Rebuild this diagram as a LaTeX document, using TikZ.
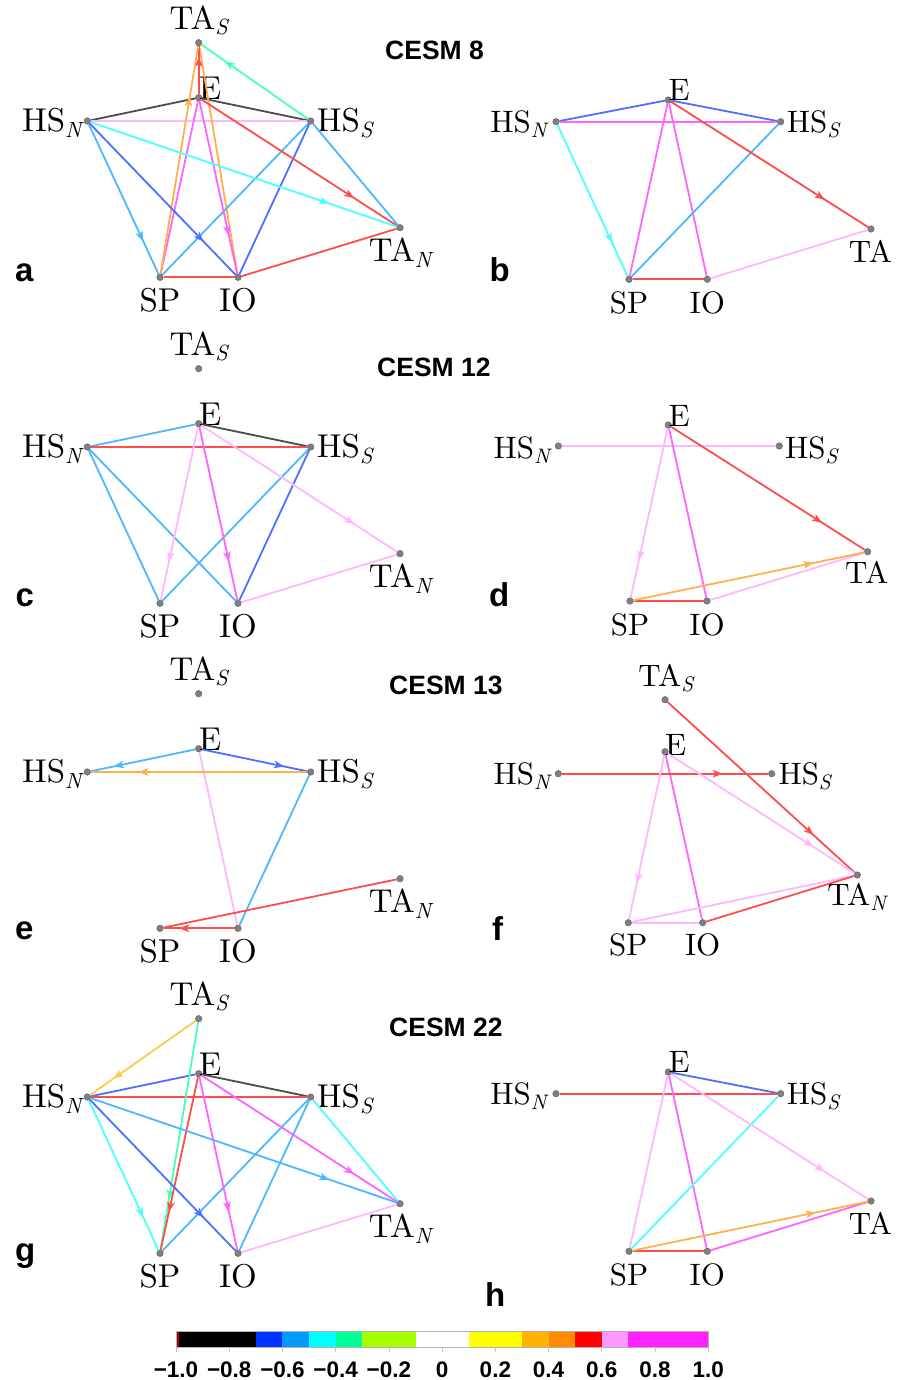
\documentclass[tikz,border=0pt]{standalone}
\usepackage{fontspec}
\newfontfamily\hv{Liberation Sans}
\newfontfamily\lmten{lmroman10-regular.otf}[ItalicFont=lmroman10-italic.otf]
\usetikzlibrary{arrows.meta,decorations.markings}

% colour scale
\definecolor{cDark}{HTML}{B00000}
\definecolor{cBlack}{HTML}{000000}
\definecolor{cBlue}{HTML}{0033FF}
\definecolor{cSky}{HTML}{0099FF}
\definecolor{cCyan}{HTML}{00FFFF}
\definecolor{cGreen}{HTML}{00FF99}
\definecolor{cLime}{HTML}{A6FF00}
\definecolor{cYellow}{HTML}{FFFF00}
\definecolor{cAmber}{HTML}{FFB300}
\definecolor{cOrange}{HTML}{FF8C00}
\definecolor{cRed}{HTML}{FF0000}
\definecolor{cPink}{HTML}{FF99FF}
\definecolor{cMag}{HTML}{FF22FF}

\newcommand{\sub}[1]{\raisebox{-5.5pt}{\fontsize{22}{24}\selectfont\itshape #1}}
\newcommand{\subr}[1]{\raisebox{-5.2pt}{\fontsize{21}{23}\selectfont\itshape #1}}

\begin{document}
\begin{tikzpicture}[
  x=1pt, y=-1pt,
  vtx/.style={circle,fill=gray,draw=black!60,line width=0.5pt,inner sep=0pt,minimum size=6.5pt},
  lab/.style={font=\lmten\fontsize{33}{36}\selectfont,inner sep=0pt},
  labr/.style={font=\lmten\fontsize{31}{34}\selectfont,inner sep=0pt},
  ttl/.style={font=\hv\bfseries\fontsize{26.5}{30}\selectfont,inner sep=0pt},
  pnl/.style={font=\hv\bfseries\fontsize{33}{38}\selectfont,inner sep=0pt},
  cbl/.style={font=\hv\bfseries\fontsize{22.5}{26}\selectfont,inner sep=0pt},
  ed/.style={line width=1.8pt},
  arr/.style={postaction={decorate},
    decoration={markings,mark=at position 0.78 with {\arrow{Stealth[length=10pt,width=7.5pt,inset=2.5pt]}}}}
]
\useasboundingbox (0,0) rectangle (898,1380);

% -------------------------
% Left column: seven boxes
% -------------------------
\foreach \p/\dy in {a/0,c/326,e/651,g/976} {
  \node[vtx] (\p-TAS) at (198.7,42.7+\dy) {};
  \node[vtx] (\p-E)   at (198.7,97.7+\dy) {};
  \node[vtx] (\p-HSN) at (87.3,121+\dy) {};
  \node[vtx] (\p-HSS) at (310.7,121+\dy) {};
  \node[vtx] (\p-TAN) at (400,227.7+\dy) {};
  \node[vtx] (\p-SP)  at (160,277.3+\dy) {};
  \node[vtx] (\p-IO)  at (238,277.3+\dy) {};
  \node[lab,anchor=base]      (\p-TASl) at (198.7,29.3+\dy) {TA\sub{S}};
  \node[lab,anchor=base west] (\p-El)   at (198.7,99.7+\dy) {E};
  \node[lab,anchor=base east] (\p-HSNl) at (81.7,131.7+\dy) {HS\sub{N}};
  \node[lab,anchor=base west] (\p-HSSl) at (316.7,131.7+\dy) {HS\sub{S}};
  \node[lab,anchor=base]      (\p-TANl) at (400,261.7+\dy) {TA\sub{N}};
  \node[lab,anchor=base]      (\p-SPl)  at (160,311.7+\dy) {SP};
  \node[lab,anchor=base]      (\p-IOl)  at (238,311.7+\dy) {IO};
}

% -------------------------
% Right column: six boxes (b, h)
% -------------------------
\foreach \p/\dy in {b/0,h/972} {
  \node[vtx] (\p-E)   at (668.3,100+\dy) {};
  \node[vtx] (\p-HSN) at (556,121.7+\dy) {};
  \node[vtx] (\p-HSS) at (780.7,121.7+\dy) {};
  \node[vtx] (\p-TA)  at (871,229+\dy) {};
  \node[vtx] (\p-SP)  at (629,279.3+\dy) {};
  \node[vtx] (\p-IO)  at (707.3,279.3+\dy) {};
  \node[labr,anchor=base west] (\p-El)   at (668.3,100.5+\dy) {E};
  \node[labr,anchor=base east] (\p-HSNl) at (546.7,132.7+\dy) {HS\subr{N}};
  \node[labr,anchor=base west] (\p-HSSl) at (786.7,132.7+\dy) {HS\subr{S}};
  \node[labr,anchor=base]      (\p-TAl)  at (870.5,262.3+\dy) {TA};
  \node[labr,anchor=base]      (\p-SPl)  at (629,313.3+\dy) {SP};
  \node[labr,anchor=base]      (\p-IOl)  at (707.3,313.3+\dy) {IO};
}

% box d
\node[vtx] (d-E)   at (668.3,425) {};
\node[vtx] (d-HSN) at (558.3,446) {};
\node[vtx] (d-HSS) at (779.3,446) {};
\node[vtx] (d-TA)  at (867.7,551.7) {};
\node[vtx] (d-SP)  at (630,601) {};
\node[vtx] (d-IO)  at (707,601) {};
\node[labr,anchor=base west] (d-El)   at (668.3,426.7) {E};
\node[labr,anchor=base east] (d-HSNl) at (550,458) {HS\subr{N}};
\node[labr,anchor=base west] (d-HSSl) at (785,458) {HS\subr{S}};
\node[labr,anchor=base]      (d-TAl)  at (866.7,583.3) {TA};
\node[labr,anchor=base]      (d-SPl)  at (630,635) {SP};
\node[labr,anchor=base]      (d-IOl)  at (707,635) {IO};

% box f
\node[vtx] (f-TAS) at (665,699.7) {};
\node[vtx] (f-E)   at (665,751.7) {};
\node[vtx] (f-HSN) at (558.3,773.7) {};
\node[vtx] (f-HSS) at (771.7,773.7) {};
\node[vtx] (f-TAN) at (857.3,875) {};
\node[vtx] (f-SP)  at (628.3,922.7) {};
\node[vtx] (f-IO)  at (702.7,922.7) {};
\node[labr,anchor=base]      (f-TASl) at (665.8,686.7) {TA\subr{S}};
\node[labr,anchor=base west] (f-El)   at (665,755) {E};
\node[labr,anchor=base east] (f-HSNl) at (550,784.3) {HS\subr{N}};
\node[labr,anchor=base west] (f-HSSl) at (778.3,784.3) {HS\subr{S}};
\node[labr,anchor=base]      (f-TANl) at (856.7,905) {TA\subr{N}};
\node[labr,anchor=base]      (f-SPl)  at (628.3,955) {SP};
\node[labr,anchor=base]      (f-IOl)  at (702.7,955) {IO};

% -------------------------
% Titles and box letters
% -------------------------
\node[ttl,anchor=base west] (t8)  at (385,59.3)   {CESM 8};
\node[ttl,anchor=base west] (t12) at (377,376.7)  {CESM 12};
\node[ttl,anchor=base west] (t13) at (389,694.3)  {CESM 13};
\node[ttl,anchor=base west] (t22) at (389,1036.7) {CESM 22};

\node[pnl,anchor=base west] (la) at (15,281)    {a};
\node[pnl,anchor=base west] (lb) at (489.5,281.7) {b};
\node[pnl,anchor=base west] (lc) at (15.5,606.7) {c};
\node[pnl,anchor=base west] (ld) at (489,606.7) {d};
\node[pnl,anchor=base west] (le) at (15,939)    {e};
\node[pnl,anchor=base west] (lf) at (492,940)   {f};
\node[pnl,anchor=base west] (lg) at (15,1261)   {g};
\node[pnl,anchor=base west] (lh) at (485,1306.7) {h};

% -------------------------
% Links: plain ones, then arrows
% -------------------------
\foreach \u/\v/\c in {
    a-E/a-HSN/cBlack, a-E/a-HSS/cBlack, a-HSN/a-HSS/cPink, a-E/a-SP/cMag,
    a-TAS/a-IO/cOrange, a-HSS/a-SP/cSky, a-HSS/a-IO/cBlue, a-HSS/a-TAN/cSky,
    a-SP/a-IO/cRed, a-IO/a-TAN/cRed,
    b-E/b-HSN/cBlue, b-E/b-HSS/cBlue, b-HSN/b-HSS/cMag, b-E/b-SP/cMag,
    b-E/b-IO/cMag, b-HSS/b-SP/cSky, b-SP/b-IO/cRed, b-IO/b-TA/cPink,
    c-E/c-HSN/cSky, c-E/c-HSS/cBlack, c-HSN/c-HSS/cRed, c-HSN/c-SP/cSky,
    c-HSN/c-IO/cSky, c-HSS/c-SP/cSky, c-HSS/c-IO/cBlue, c-IO/c-TAN/cPink,
    d-HSN/d-HSS/cPink, d-E/d-IO/cMag, d-SP/d-IO/cRed, d-IO/d-TA/cPink,
    e-E/e-IO/cPink, e-HSS/e-IO/cSky, e-TAN/e-SP/cRed,
    f-E/f-IO/cMag, f-SP/f-TAN/cPink, f-SP/f-IO/cPink, f-IO/f-TAN/cRed,
    g-E/g-HSN/cBlue, g-E/g-HSS/cBlack, g-HSN/g-HSS/cRed, g-HSS/g-SP/cSky,
    g-HSS/g-IO/cSky, g-HSS/g-TAN/cCyan, g-IO/g-TAN/cPink,
    h-E/h-HSS/cBlue, h-HSN/h-HSS/cRed, h-E/h-SP/cPink, h-E/h-IO/cMag,
    h-HSS/h-SP/cCyan, h-SP/h-IO/cRed, h-IO/h-TA/cMag} {
  \draw[ed,color=\c!70!white] (\u) -- (\v);
}

\foreach \u/\v/\c in {
    a-HSS/a-TAS/cGreen, a-E/a-TAS/cRed, a-SP/a-TAS/cOrange, a-E/a-IO/cMag,
    a-E/a-TAN/cRed, a-HSN/a-TAN/cCyan, a-HSN/a-SP/cSky, a-HSN/a-IO/cBlue,
    b-E/b-TA/cRed, b-HSN/b-SP/cCyan,
    c-E/c-SP/cPink, c-E/c-IO/cMag, c-E/c-TAN/cPink,
    d-E/d-SP/cPink, d-E/d-TA/cRed, d-SP/d-TA/cOrange,
    e-E/e-HSN/cSky, e-E/e-HSS/cBlue, e-HSS/e-HSN/cOrange, e-IO/e-SP/cRed,
    f-TAS/f-TAN/cRed, f-HSN/f-HSS/cRed, f-E/f-SP/cPink, f-E/f-TAN/cPink,
    g-TAS/g-HSN/cAmber, g-TAS/g-SP/cGreen, g-E/g-SP/cRed, g-E/g-IO/cMag,
    g-E/g-TAN/cMag, g-HSN/g-TAN/cSky, g-HSN/g-SP/cCyan, g-HSN/g-IO/cBlue,
    h-E/h-TA/cPink, h-SP/h-TA/cOrange} {
  \draw[ed,arr,color=\c!70!white] (\u) -- (\v);
}

% -------------------------
% Colour bar
% -------------------------
\foreach \a/\b/\c in {-1/-0.989/cDark, -0.989/-0.7/cBlack, -0.7/-0.6/cBlue,
    -0.6/-0.5/cSky, -0.5/-0.4/cCyan, -0.4/-0.3/cGreen, -0.3/-0.1/cLime,
    -0.1/0.1/white, 0.1/0.3/cYellow, 0.3/0.4/cAmber, 0.4/0.5/cOrange,
    0.5/0.6/cRed, 0.6/0.7/cPink, 0.7/1/cMag} {
  \fill[\c] ({442.15+266.15*\a},1331.7) rectangle ({442.15+266.15*\b},1347.3);
}
\draw[gray!60,line width=0.8pt] (176,1331.7) rectangle (708.3,1347.3);
\foreach \i in {0,...,10} {
  \draw[gray!45,line width=0.8pt] ({176+53.23*\i},1347.3) -- ++(0,5);
}
\foreach \v/\t [count=\i] in {-1/−1.0,-0.8/−0.8,-0.6/−0.6,-0.4/−0.4,-0.2/−0.2,
    0/0,0.2/0.2,0.4/0.4,0.6/0.6,0.8/0.8,1/1.0} {
  \node[cbl,anchor=base] (cb\i) at ({442.15+266.15*\v},1377.3) {\t};
}

\end{tikzpicture}
\end{document}
